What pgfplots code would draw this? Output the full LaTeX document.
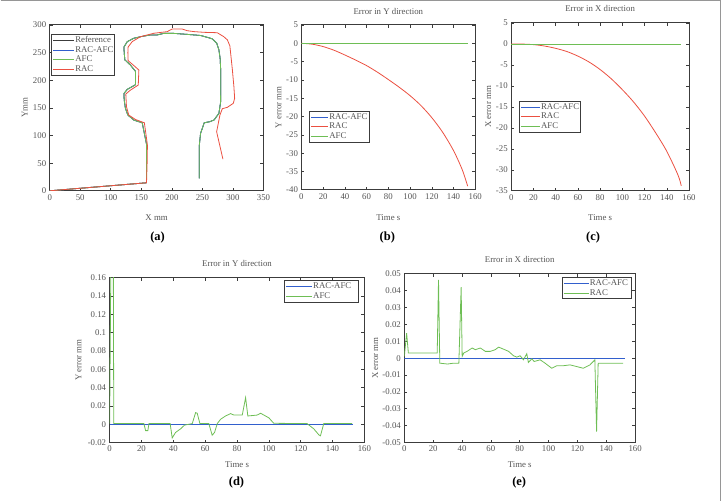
\documentclass[border=0pt]{standalone}
\usepackage{fontspec}
\setmainfont{Liberation Serif}
\usepackage{pgfplots}
\pgfplotsset{compat=1.18}

\definecolor{axgray}{RGB}{60,60,60}
\definecolor{txtgray}{RGB}{85,85,85}
\definecolor{framegray}{RGB}{150,150,150}
\definecolor{mblue}{RGB}{50,95,205}
\definecolor{mgreen}{RGB}{110,190,85}
\definecolor{mred}{RGB}{235,80,65}
\definecolor{mref}{RGB}{60,60,60}

\def\leglen{20pt}
\pgfplotsset{
  matlab/.style={
    scale only axis,
    axis line style={axgray, line width=1pt},
    every tick/.style={axgray, line width=0.6pt},
    tick align=inside,
    major tick length=3pt,
    tick pos=both,
    /pgf/number format/assume math mode=true,
    /pgf/number format/fixed,
    scaled ticks=false,
    ticklabel style={font=\fontsize{8.8}{10}\selectfont, text=txtgray},
    label style={font=\fontsize{8.8}{10}\selectfont, text=txtgray},
    title style={font=\fontsize{8.8}{10}\selectfont, text=txtgray},
    legend cell align=left,
    legend style={draw=axgray, line width=1pt, fill=white,
      font=\fontsize{8.8}{10}\selectfont, text=txtgray,
      inner sep=1pt, row sep=0pt,
      nodes={inner sep=0.6pt, text height=6.4pt, text depth=2pt}},
    legend image code/.code={\draw[#1, line width=0.8pt, draw=.] (0pt,0pt) -- (\leglen,0pt);},
  },
  leglen/.code={\def\leglen{#1}},
  curve/.style={line width=0.8pt, no markers},
}

\begin{document}
\begin{tikzpicture}[x=1pt,y=1pt]
\path (0,0) rectangle (722,502);
\draw[framegray, line width=1.5pt] (0,501.25) -- (720.25,501.25) -- (720.25,0);

% (a) trajectory in the XY plane
\begin{axis}[matlab, leglen=21pt, at={(49pt,311pt)}, anchor=south west,
  width=214pt, height=166pt,
  xmin=0, xmax=350, ymin=0, ymax=300,
  xtick={0,50,...,350}, ytick={0,50,...,300},
  xlabel={X mm}, ylabel={Ymm},
  xlabel style={at={(axis description cs:0.5,-0.163)}, anchor=center},
  ylabel style={at={(axis description cs:-0.117,0.5)}, anchor=center},
  legend style={at={(rel axis cs:0.008,0.944)}, anchor=north west}]
\addplot[curve, mref] coordinates {
 (0,0) (158.5,14.5) (158.5,84.5) (151.5,123) (137.7,128) (128,137) (124,149)
 (122,164) (121.5,176) (127,183.5) (139,191) (140.5,192) (140.5,216) (132,227.6)
 (123,237) (122,250) (121.5,260) (127,269.8) (137.7,276) (150,279) (165,282)
 (176,282) (187,284.8) (203,284.8) (225,283) (247,281) (260,277) (266,275)
 (273.5,267) (277,255) (279,240) (280,218) (280,190) (279.8,160) (277,140)
 (269,128) (262,125) (253,123) (247,103.8) (245,82.7) (245,22.3)};
\addlegendentry{Reference}
\addplot[curve, mblue] coordinates {
 (0,0) (158.5,14.5) (158.5,84.5) (151.5,123) (137.7,128) (128,137) (124,149)
 (122,164) (121.5,176) (127,183.5) (139,191) (140.5,192) (140.5,216) (132,227.6)
 (123,237) (122,250) (121.5,260) (127,269.8) (137.7,276) (150,279) (165,282)
 (176,282) (187,284.8) (203,284.8) (225,283) (247,281) (260,277) (266,275)
 (273.5,267) (277,255) (279,240) (280,218) (280,190) (279.8,160) (277,140)
 (269,128) (262,125) (253,123) (247,103.8) (245,82.7) (245,22.3)};
\addlegendentry{RAC-AFC}
\addplot[curve, mgreen] coordinates {
 (0,0) (158.5,14.5) (158.5,84.5) (151.5,123) (137.7,128) (128,137) (124,149)
 (122,164) (121.5,176) (127,183.5) (139,191) (140.5,192) (140.5,216) (132,227.6)
 (123,237) (122,250) (121.5,260) (127,269.8) (137.7,276) (150,279) (165,282)
 (176,282) (187,284.8) (203,284.8) (225,283) (247,281) (260,277) (266,275)
 (273.5,267) (277,255) (279,240) (280,218) (280,190) (279.8,160) (277,140)
 (269,128) (262,125) (253,123) (247,103.8) (245,82.7) (245,22.3)};
\addlegendentry{AFC}
\addplot[curve, mred] coordinates {
 (0,0) (158.5,14.5) (159.5,50) (160,82.7) (155,123) (140.4,129) (129.5,137)
 (125.7,152) (124.6,175) (132,182) (145,191.3) (146,218.5) (136.7,227.6)
 (128.4,235.4) (128,250) (128.4,260) (135,269.8) (148.6,278.8) (170.5,285)
 (192.3,287.9) (200.5,292.7) (217,292.7) (225,289.7) (236,288) (252.5,286.7)
 (274.3,286) (285,278.8) (291,272.9) (295,262) (299,220) (301.6,188)
 (302.8,167.3) (300.6,158.2) (290.8,151) (282.6,148.5) (278.7,137)
 (273.3,106.8) (283.6,57.3)};
\addlegendentry{RAC}
\end{axis}

% (b) error in Y direction
\begin{axis}[matlab, leglen=17pt, at={(301pt,312pt)}, anchor=south west,
  width=174pt, height=165pt,
  xmin=0, xmax=160, ymin=-40, ymax=5,
  xtick={0,20,...,160}, ytick={-40,-35,...,5},
  title={Error in Y direction},
  title style={at={(axis description cs:0.5,1.048)}, anchor=center},
  xlabel={Time s}, ylabel={Y error mm},
  xlabel style={at={(axis description cs:0.5,-0.17)}, anchor=center},
  ylabel style={at={(axis description cs:-0.132,0.5)}, anchor=center},
  legend style={at={(rel axis cs:0.046,0.479)}, anchor=north west}]
\addplot[curve, mblue] coordinates {(0,0) (153,0)};
\addlegendentry{RAC-AFC}
\addplot[curve, mred, smooth] coordinates {
 (0,0) (10,-0.25) (20,-0.9) (30,-1.9) (40,-3.2) (50,-4.6) (60,-6.1) (70,-7.9)
 (80,-9.9) (90,-12.0) (100,-14.3) (110,-17.0) (120,-20.3) (130,-24.3)
 (140,-29.3) (148,-34.5) (153,-39)};
\addlegendentry{RAC}
\addplot[curve, mgreen] coordinates {(0,0) (153,0)};
\addlegendentry{AFC}
\end{axis}

% (c) error in X direction
\begin{axis}[matlab, leglen=19pt, at={(511pt,311pt)}, anchor=south west,
  width=178pt, height=168pt,
  xmin=0, xmax=160, ymin=-35, ymax=5,
  xtick={0,20,...,160}, ytick={-35,-30,...,5},
  title={Error in X direction},
  title style={at={(axis description cs:0.5,1.048)}, anchor=center},
  xlabel={Time s}, ylabel={X error mm},
  xlabel style={at={(axis description cs:0.5,-0.161)}, anchor=center},
  ylabel style={at={(axis description cs:-0.129,0.5)}, anchor=center},
  legend style={at={(rel axis cs:0.045,0.536)}, anchor=north west}]
\addplot[curve, mblue] coordinates {(0,0) (153,0)};
\addlegendentry{RAC-AFC}
\addplot[curve, mred, smooth] coordinates {
 (0,0) (10,-0.03) (20,-0.16) (30,-0.5) (40,-1.05) (50,-1.8) (60,-2.9)
 (70,-4.3) (80,-6.1) (90,-8.3) (100,-10.9) (110,-13.8) (120,-17.2)
 (130,-21.2) (140,-25.6) (150,-31.2) (153,-33.8)};
\addlegendentry{RAC}
\addplot[curve, mgreen] coordinates {(0,0) (153,0)};
\addlegendentry{AFC}
\end{axis}

% (d) error in Y direction, detail
\begin{axis}[matlab, leglen=26pt, at={(109pt,59pt)}, anchor=south west,
  width=255pt, height=165pt,
  xmin=0, xmax=160, ymin=-0.02, ymax=0.16,
  xtick={0,20,...,160}, ytick={-0.02,0,0.02,0.04,0.06,0.08,0.1,0.12,0.14,0.16},
  title={Error in Y direction},
  title style={at={(axis description cs:0.5,1.048)}, anchor=center},
  xlabel={Time s}, ylabel={Y error mm},
  xlabel style={at={(axis description cs:0.5,-0.133)}, anchor=center},
  ylabel style={at={(axis description cs:-0.122,0.5)}, anchor=center},
  legend style={at={(rel axis cs:0.98,0.984)}, anchor=north east,
    nodes={inner sep=0.6pt, text height=6.4pt, text depth=2pt, text width=44pt}}]
\addplot[curve, mblue] coordinates {(0,0) (153,0)};
\addlegendentry{RAC-AFC}
\addplot[curve, mgreen] coordinates {
 (0,0.0007) (0.8,0.18) (2.3,0.18) (2.6,0.0007) (21.5,0.0007) (22.6,-0.007)
 (24,-0.007) (24.7,0.0007) (38,0.0007) (39.3,-0.015) (41.4,-0.009)
 (44.6,-0.005) (47,-0.001) (51.9,0.0007) (54,0.0127) (55,0.012) (56.7,0.0007)
 (62.3,0.0007) (64.4,-0.012) (65.9,-0.009) (67.6,0.0007) (69.7,0.0054)
 (72.8,0.009) (76,0.0116) (78,0.010) (83.3,0.010) (85.4,0.029) (86.8,0.009)
 (92.7,0.010) (94.8,0.012) (97.9,0.009) (100,0.007) (103.1,0.001)
 (124,0.0007) (128.2,-0.005) (131.4,-0.0116) (132.4,-0.0127) (134.5,0.0007)
 (152.3,0.0007)};
\addlegendentry{AFC}
\end{axis}

% (e) error in X direction, detail
\begin{axis}[matlab, leglen=25pt, at={(404pt,59pt)}, anchor=south west,
  width=231pt, height=169pt,
  xmin=0, xmax=160, ymin=-0.05, ymax=0.05,
  xtick={0,20,...,160}, ytick={-0.05,-0.04,...,0.05},
  yticklabel={\pgfmathprintnumber[fixed,precision=2]{\tick}},
  title={Error in X direction},
  title style={at={(axis description cs:0.5,1.047)}, anchor=center},
  xlabel={Time s}, ylabel={X error mm},
  xlabel style={at={(axis description cs:0.5,-0.130)}, anchor=center},
  ylabel style={at={(axis description cs:-0.126,0.5)}, anchor=center},
  legend style={at={(rel axis cs:0.986,0.98)}, anchor=north east,
    nodes={inner sep=0.6pt, text height=6.4pt, text depth=2pt, text width=40pt}}]
\addplot[curve, mblue] coordinates {(0,0) (153,0)};
\addlegendentry{RAC-AFC}
\addplot[curve, mgreen] coordinates {
 (0,0.001) (1.6,0.0148) (2.8,0.003) (22.8,0.003) (23.7,0.0464) (24.6,-0.003)
 (30,-0.0035) (34,-0.003) (37.8,-0.003) (39.4,0.042) (40.1,0.001)
 (41.2,0.003) (43.5,0.004) (47,0.006) (49.3,0.005) (52.7,0.006) (56.2,0.004)
 (59.6,0.004) (63,0.005) (65.4,0.0065) (68.8,0.0053) (72.3,0.004)
 (75.7,0.0014) (78,0.0006) (80.3,0.0014) (82.6,-0.001) (84.9,0.0026)
 (86,-0.0026) (88.4,-0.0004) (90,-0.002) (94.2,-0.001) (97.6,-0.003)
 (102.2,-0.006) (105.7,-0.0045) (110.3,-0.0045) (114.9,-0.004)
 (119.5,-0.005) (124.1,-0.006) (128.7,-0.004) (132.1,-0.001)
 (133.3,-0.0435) (134.4,-0.003) (151.7,-0.003)};
\addlegendentry{RAC}
\end{axis}

% panel letters
\node[font=\fontsize{12.5}{14}\selectfont\bfseries] at (157,264) {(a)};
\node[font=\fontsize{12.5}{14}\selectfont\bfseries] at (387,264) {(b)};
\node[font=\fontsize{12.5}{14}\selectfont\bfseries] at (593,264) {(c)};
\node[font=\fontsize{12.5}{14}\selectfont\bfseries] at (236,19) {(d)};
\node[font=\fontsize{12.5}{14}\selectfont\bfseries] at (519,19) {(e)};
\end{tikzpicture}
\end{document}
